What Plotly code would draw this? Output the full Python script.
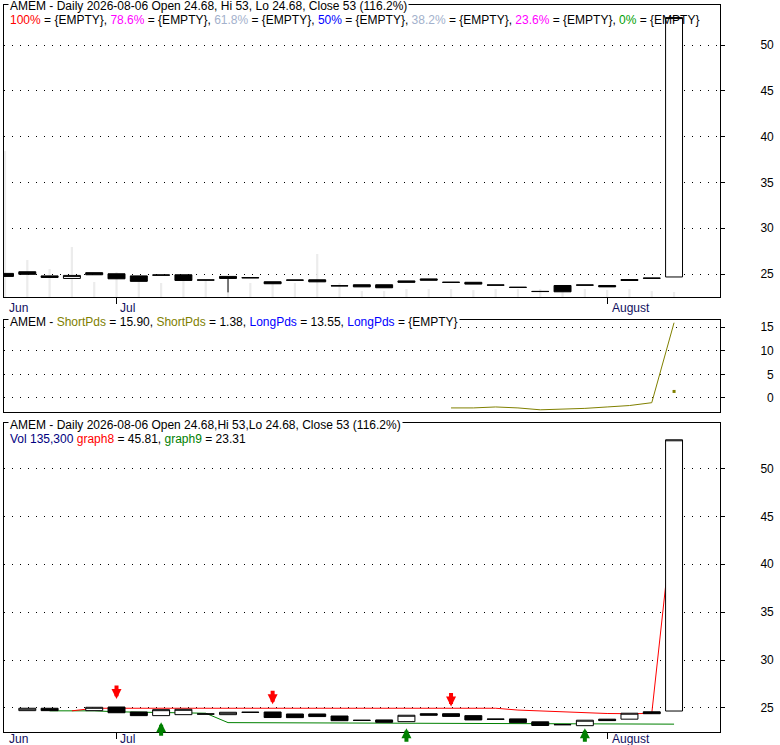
import plotly.graph_objects as go

# ---------------- data ----------------
ticker = "AMEM"
dates = ["2026-06-24", "2026-06-25", "2026-06-26", "2026-06-29", "2026-06-30",
         "2026-07-01", "2026-07-02", "2026-07-06", "2026-07-07", "2026-07-08",
         "2026-07-09", "2026-07-10", "2026-07-13", "2026-07-14", "2026-07-15",
         "2026-07-16", "2026-07-17", "2026-07-20", "2026-07-21", "2026-07-22",
         "2026-07-23", "2026-07-24", "2026-07-27", "2026-07-28", "2026-07-29",
         "2026-07-30", "2026-07-31", "2026-08-03", "2026-08-04", "2026-08-05",
         "2026-08-06"]
month_names = {"06": "Jun", "07": "Jul", "08": "August"}

# top panel (price + volume)
top_open = [25.07, 25.25, 24.80, 24.52, 25.15, 25.03, 24.80, 24.90, 24.92, 24.36,
            24.74, 24.61, 24.16, 24.35, 24.37, 23.73, 23.83, 23.83, 24.25, 24.47,
            24.11, 24.10, 23.81, 23.56, 23.11, 23.75, 23.81, 23.75, 24.40, 24.56, 24.68]
top_high = [25.07, 25.25, 24.80, 24.85, 25.15, 25.03, 24.80, 24.90, 24.92, 24.36,
            24.74, 24.61, 24.16, 24.35, 24.37, 23.73, 23.83, 23.83, 24.25, 24.47,
            24.11, 24.10, 23.81, 23.56, 23.11, 23.75, 23.81, 23.75, 24.40, 24.56, 53.00]
top_low = [24.74, 24.97, 24.63, 24.52, 24.92, 24.48, 24.20, 24.88, 24.30, 24.34,
           23.00, 24.59, 23.94, 24.33, 24.15, 23.71, 23.60, 23.50, 24.10, 24.33,
           24.09, 23.90, 23.79, 23.54, 23.09, 23.06, 23.79, 23.60, 24.30, 24.54, 24.68]
top_close = [24.74, 24.97, 24.63, 24.85, 24.92, 24.48, 24.20, 24.88, 24.30, 24.34,
             24.52, 24.59, 23.94, 24.33, 24.15, 23.71, 23.60, 23.50, 24.10, 24.33,
             24.09, 23.90, 23.79, 23.54, 23.09, 23.06, 23.79, 23.60, 24.30, 24.54, 53.00]
volume = [3950000, 1001000, 758000, 1353000, 406000, 676000, 487000, 379000, 514000, 460000,
          541000, 379000, 406000, 379000, 1164000, 379000, 162000, 162000, 216000, 216000,
          216000, 189000, 216000, 216000, 216000, 244000, 216000, 189000, 216000, 162000, 135300]

# middle panel
short_pds = [None] * 20 + [-2.1, -2.1, -1.9, -2.1, -2.5, -2.4, -2.2, -1.9, -1.6, -1.0, 15.9]
short_pds2 = [None] * 30 + [1.38]

# bottom panel
bot_open = [None, 24.72, 24.97, None, 24.72, 25.10, 24.58, 24.20, 24.30, 24.38,
            24.30, 24.56, 24.58, 24.37, 24.37, 24.16, 23.72, 23.75, 23.57, 24.40,
            24.40, 24.20, 23.84, 23.86, 23.55, 23.27, 23.15, 23.83, 23.83, 24.60, 24.68]
bot_high = [None, 24.97, 24.97, None, 25.07, 25.10, 24.58, 24.82, 24.86, 24.38,
            24.55, 24.56, 24.58, 24.37, 24.37, 24.16, 23.72, 23.75, 24.24, 24.40,
            24.40, 24.20, 23.84, 23.86, 23.55, 23.27, 23.72, 23.83, 24.45, 24.60, 53.00]
bot_low = [None, 24.72, 24.72, None, 24.72, 24.50, 24.20, 24.20, 24.30, 24.36,
           24.30, 24.54, 24.00, 23.99, 24.10, 23.67, 23.70, 23.50, 23.57, 24.24,
           24.12, 23.75, 23.82, 23.47, 23.17, 23.25, 23.15, 23.68, 23.83, 24.40, 24.68]
bot_close = [None, 24.97, 24.72, None, 25.07, 24.50, 24.20, 24.82, 24.86, 24.36,
             24.55, 24.54, 24.00, 23.99, 24.10, 23.67, 23.70, 23.50, 24.24, 24.24,
             24.12, 23.75, 23.82, 23.47, 23.17, 23.25, 23.72, 23.68, 24.45, 24.40, 53.00]
graph8 = [None, None, None, 24.70, 24.97, 24.97, 24.97, 24.97, 24.97, 24.97,
          24.97, 24.97, 24.97, 24.97, 24.97, 24.97, 24.97, 24.97, 24.97, 24.97,
          24.97, 24.97, 24.97, 24.78, 24.68, 24.55, 24.47, 24.42, 24.40, 24.43, 45.81]
graph9 = [None, None, 24.70, 24.70, 24.70, 24.60, 24.55, 24.50, 24.45, 24.45,
          23.47, 23.46, 23.45, 23.45, 23.44, 23.43, 23.42, 23.42, 23.41, 23.40,
          23.40, 23.40, 23.40, 23.36, 23.31, 23.31, 23.31, 23.31, 23.31, 23.31, 23.31]
sell_idx = [5, 12, 20]
sell_level = [25.94, 25.39, 25.14]
buy_idx = [7, 18, 26]
buy_level = [23.51, 22.88, 22.88]

price_ticks = [25, 30, 35, 40, 45, 50]
pds_ticks = [0, 5, 10, 15]
pds_ticktext = ["\u20070", "\u20075", "10", "15"]

header_top = "AMEM - Daily 2026-08-06 Open 24.68, Hi 53, Lo 24.68, Close 53 (116.2%)"
header_bot = "AMEM - Daily 2026-08-06 Open 24.68,Hi 53,Lo 24.68, Close 53 (116.2%)"
fib_labels = ["100%", "78.6%", "61.8%", "50%", "38.2%", "23.6%", "0%"]
fib_colors = ["#ff0000", "#ff00ff", "#a3b1cc", "#0000ff", "#a3b1cc", "#ff00ff", "#00a000"]

# ---------------- figure ----------------
idx = list(range(len(dates)))
FONT = "Liberation Sans, Arial, sans-serif"
XR = [-0.045, 32.06]
VOL_MAX = 292 * 27060
TOP_YR = [22.49, 54.37]
BOT_YR = [22.49, 54.75]

fig = go.Figure()

fig.add_trace(go.Bar(x=idx, y=volume, xaxis="x", yaxis="y", width=0.1,
                     marker=dict(color="#ececec", line=dict(width=0)), hoverinfo="skip"))

candle_style = dict(
    increasing=dict(line=dict(color="black", width=1), fillcolor="white"),
    decreasing=dict(line=dict(color="black", width=1), fillcolor="black"),
    whiskerwidth=0,
)
fig.add_trace(go.Candlestick(x=idx, open=top_open, high=top_high, low=top_low,
                             close=top_close, xaxis="x", yaxis="y4", **candle_style))

fig.add_trace(go.Scatter(x=idx, y=short_pds, mode="lines", xaxis="x2", yaxis="y2",
                         line=dict(color="#808000", width=1)))
fig.add_trace(go.Scatter(x=idx, y=short_pds2, mode="markers", xaxis="x2", yaxis="y2",
                         marker=dict(color="#808000", size=3, symbol="square")))

fig.add_trace(go.Scatter(x=idx, y=graph9, mode="lines", xaxis="x3", yaxis="y3",
                         line=dict(color="#008000", width=1)))
fig.add_trace(go.Scatter(x=idx, y=graph8, mode="lines", xaxis="x3", yaxis="y3",
                         line=dict(color="#ff0000", width=1)))
fig.add_trace(go.Candlestick(x=idx, open=bot_open, high=bot_high, low=bot_low,
                             close=bot_close, xaxis="x3", yaxis="y5", **candle_style))

# month starts
month_pos = []
prev = None
for i, d in enumerate(dates):
    m = d[5:7]
    if m != prev:
        month_pos.append((i, month_names[m]))
        prev = m
tick_pos = [p for p, _ in month_pos if p > 0]

box = dict(showline=True, mirror=True, linecolor="black", linewidth=1, zeroline=False)
xcommon = dict(range=XR, showgrid=False, fixedrange=True, showticklabels=False,
               rangeslider=dict(visible=False), **box)
ycommon = dict(side="right", ticks="outside", ticklen=4, tickcolor="black",
               showgrid=True, gridcolor="black", griddash="1px,7px", gridwidth=1,
               ticklabelstandoff=33, tickfont=dict(family=FONT, size=12, color="black"),
               fixedrange=True, **box)

fig.update_layout(
    width=780, height=745,
    margin=dict(l=4, r=60, t=5, b=13),
    paper_bgcolor="white", plot_bgcolor="white",
    showlegend=False, boxgap=0.24, boxgroupgap=0,
    font=dict(family=FONT, size=12, color="black"),
    xaxis=dict(anchor="y", domain=[0, 1], ticks="outside", ticklen=6, tickcolor="black",
               tickvals=tick_pos, **xcommon),
    yaxis=dict(domain=[0.5983, 1.0], range=[0, VOL_MAX], visible=False, fixedrange=True),
    yaxis4=dict(overlaying="y", anchor="x", range=TOP_YR, tickvals=price_ticks, **ycommon),
    xaxis2=dict(anchor="y2", domain=[0, 1], ticks="", **xcommon),
    yaxis2=dict(anchor="x2", domain=[0.4402, 0.5667], range=[-2.96, 16.48],
                tickvals=pds_ticks, ticktext=pds_ticktext, **ycommon),
    xaxis3=dict(anchor="y3", domain=[0, 1], ticks="outside", ticklen=6, tickcolor="black",
                tickvals=tick_pos, **xcommon),
    yaxis3=dict(anchor="x3", domain=[0, 0.4250], range=BOT_YR,
                tickvals=price_ticks, **ycommon),
    yaxis5=dict(overlaying="y3", anchor="x3", range=BOT_YR, visible=False, fixedrange=True),
)

ann = []
hfont = dict(family=FONT, size=12, color="black")
# top headers
ann.append(dict(xref="x domain", yref="y domain", x=0, y=1, xanchor="left", yanchor="middle",
                xshift=4, yshift=-1, text=header_top, showarrow=False, bgcolor="white", font=hfont))
fib_text = ", ".join(f'<span style="color:{c}">{l}</span> = {{EMPTY}}'
                     for l, c in zip(fib_labels, fib_colors))
ann.append(dict(xref="x domain", yref="y domain", x=0, y=1, xanchor="left", yanchor="middle",
                xshift=4, yshift=-15, text=fib_text, showarrow=False, font=hfont))
# middle header
mid_text = (f'{ticker} - <span style="color:#808000">ShortPds</span> = 15.90, '
            f'<span style="color:#808000">ShortPds</span> = 1.38, '
            f'<span style="color:#0000ff">LongPds</span> = 13.55, '
            f'<span style="color:#0000ff">LongPds</span> = {{EMPTY}}')
ann.append(dict(xref="x2 domain", yref="y2 domain", x=0, y=1, xanchor="left", yanchor="middle",
                xshift=4, yshift=-2, text=mid_text, showarrow=False, bgcolor="white", font=hfont))
# bottom headers
ann.append(dict(xref="x3 domain", yref="y3 domain", x=0, y=1, xanchor="left", yanchor="middle",
                xshift=4, yshift=-2, text=header_bot, showarrow=False, bgcolor="white", font=hfont))
vol_text = ('<span style="color:#000080">Vol 135,300</span> '
            '<span style="color:#ff0000">graph8</span> = 45.81, '
            '<span style="color:#008000">graph9</span> = 23.31')
ann.append(dict(xref="x3 domain", yref="y3 domain", x=0, y=1, xanchor="left", yanchor="middle",
                xshift=4, yshift=-16, text=vol_text, showarrow=False, font=hfont))

# month labels
mfont = dict(family=FONT, size=12, color="#101060")
for p, name in month_pos:
    sh = 2 if p == 0 else (1 if name == "Jul" else 3)
    for xr, yr, ys in (("x", "y domain", -2), ("x3", "y3 domain", 2)):
        ann.append(dict(xref=xr, yref=yr, x=p, y=0, xanchor="left", yanchor="top",
                        xshift=sh, yshift=ys, text=name, showarrow=False, font=mfont))

# signal arrows
for p, lv in zip(sell_idx, sell_level):
    ann.append(dict(xref="x3", yref="y3", x=p, y=lv, ax=0, ay=-15, text="", showarrow=True,
                    arrowhead=2, arrowwidth=4, arrowsize=0.5, arrowcolor="#ff0000"))
for p, lv in zip(buy_idx, buy_level):
    ann.append(dict(xref="x3", yref="y3", x=p, y=lv, ax=0, ay=15, text="", showarrow=True,
                    arrowhead=2, arrowwidth=4, arrowsize=0.5, arrowcolor="#008000"))

fig.update_layout(annotations=ann)
fig.write_html("out.html", config={"displayModeBar": False},
               post_script="document.body.style.margin='0';document.body.style.overflow='hidden';")
